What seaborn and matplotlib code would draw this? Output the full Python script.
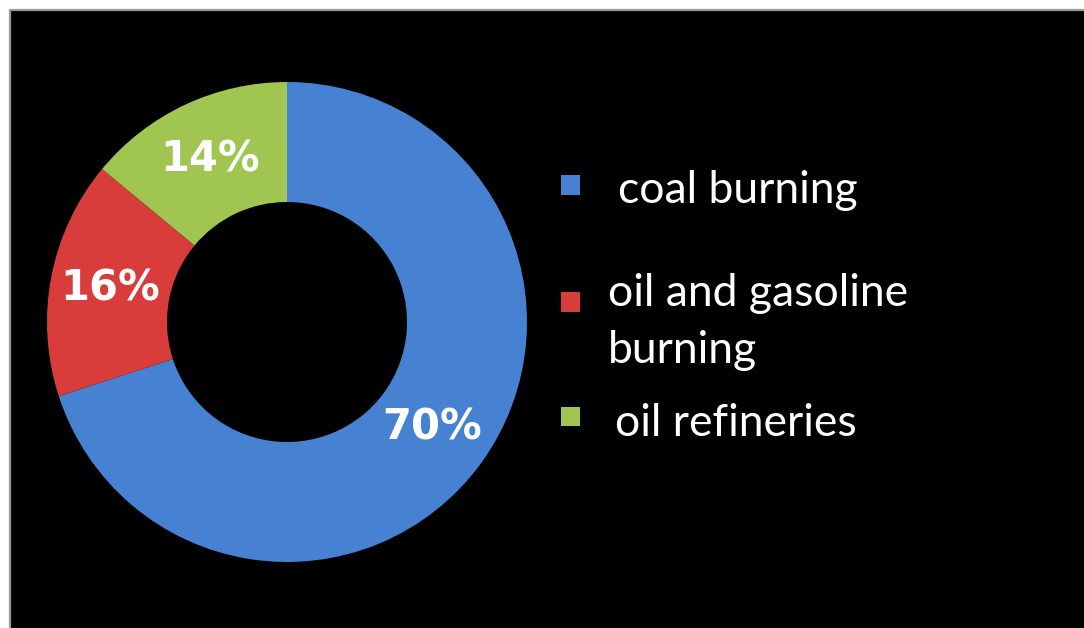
import matplotlib
matplotlib.use("Agg")
import matplotlib.pyplot as plt
from matplotlib.patches import Rectangle
import seaborn as sns

# ---- data ----
categories = ["coal burning", "oil and gasoline burning", "oil refineries"]
legend_labels = ["coal burning", "oil and gasoline\nburning", "oil refineries"]
shares = [70, 16, 14]
colors = ["#4681D2", "#D83C3B", "#A0C651"]

sns.set_theme(style="white")
plt.rcParams["font.family"] = ["Lato", "DejaVu Sans"]

W, H = 1084, 628
fig = plt.figure(figsize=(W / 100, H / 100), dpi=100)
fig.patch.set_facecolor("white")

def fx(px):
    return px / W

def fy(py):
    return 1 - py / H

# black panel with grey top/left border
fig.add_artist(Rectangle((fx(10), fy(H + 60)), fx(W + 60), (H + 50) / H,
                         transform=fig.transFigure, facecolor="black",
                         edgecolor="#9a9a9a", linewidth=1.6, zorder=0))

palette = sns.color_palette(colors)

# donut
cx, cy, R = 287, 322, 240
ax = fig.add_axes([fx(cx - R), fy(cy + R), 2 * R / W, 2 * R / H])
ax.set_facecolor("none")
wedges, texts, autotexts = ax.pie(
    shares, colors=palette, startangle=90, counterclock=False,
    autopct=lambda p: f"{p:.0f}%", pctdistance=0.75,
    wedgeprops=dict(width=0.5, edgecolor="none"),
    textprops=dict(color="white", fontsize=30, fontweight="bold",
                   family=["DejaVu Sans"]))
ax.set_xlim(-1, 1)
ax.set_ylim(-1, 1)
ax.set_aspect("equal")
ax.axis("off")

# legend (manual)
key_y = [185, 302, 416]
text_pos = [(618, 203), (608, 363), (615, 436)]
for lab, col, ky, (tx, ty) in zip(legend_labels, palette, key_y, text_pos):
    s = 19
    fig.add_artist(Rectangle((fx(570 - s / 2), fy(ky + s / 2)), s / W, s / H,
                             transform=fig.transFigure, facecolor=col,
                             edgecolor="none", zorder=3))
    fig.text(fx(tx), fy(ty), lab, color="white", fontsize=32,
             ha="left", va="baseline", linespacing=1.5)

fig.savefig("out.png", dpi=100, facecolor=fig.get_facecolor())
